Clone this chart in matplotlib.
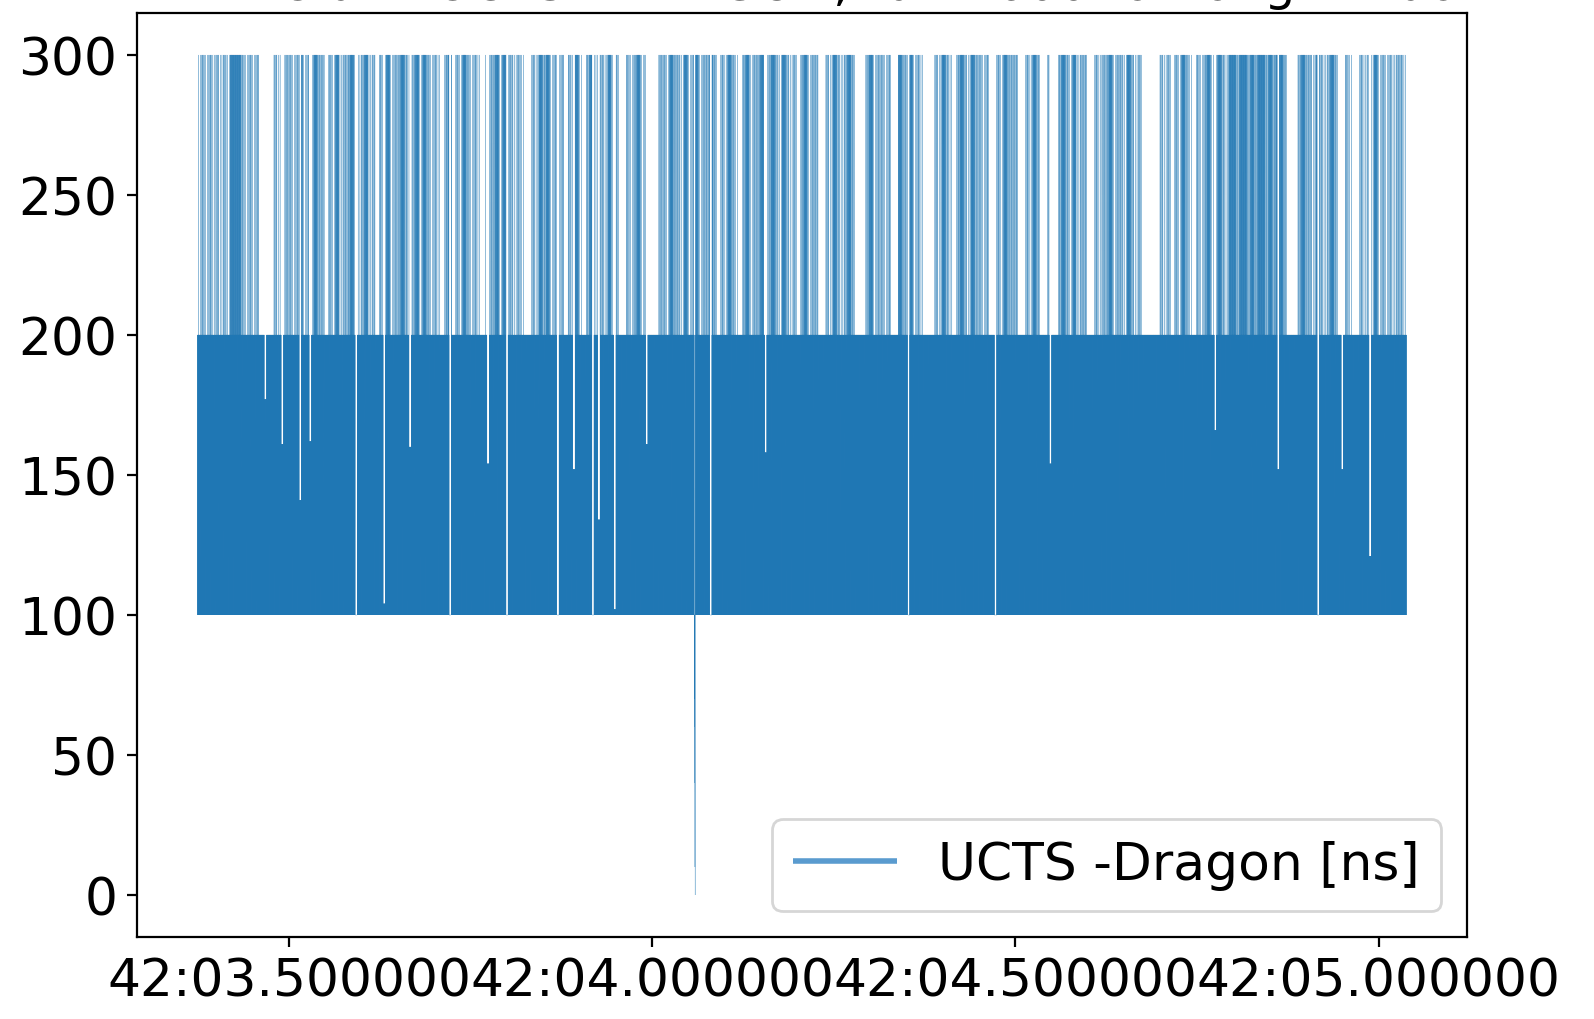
#UCTS - Dragon timestamp difference for a short stretch of a run.

#Importing packages to use required functions.
import numpy as np
import matplotlib
matplotlib.use("Agg")
import matplotlib.pyplot as plt
import matplotlib.dates as mdates
from matplotlib.collections import LineCollection

#Font size used for ticks and legend.
matplotlib.rcParams['font.size'] = 18.7
#Keep every event of the dense line.
matplotlib.rcParams['path.simplify'] = False

#Start of the minute and first event (seconds past 21:42:00).
minute_start = np.datetime64('2019-11-20T21:42:00')
t_first = 3.3735
bin_ms = 5.0

#How often the difference reached 300 ns inside each 5 ms bin (0 = never, 3 = often).
top_codes = ("12121212133321212" "0000" "21" "0" "22123121322" "0" "2131223212312" "0"
             "21312232123132121" "0" "23" "0" "2132121" "0" "12231322121" "00" "21323121"
             "2" "0" "2131" "0" "231221312" "00" "212312" "000" "2213221312312232" "0" "21321" "0"
             "231223123213212" "0" "23122" "00" "21321232" "000" "2312212" "00" "3223121"
             "000" "21321" "0" "232132212" "00" "213222" "00" "2132" "00" "2" "00" "23213122" "00" "212"
             "2312213212" "00000" "212" "0" "21321" "0" "212312321" "3323323233232332"
             "000" "23221321232" "00" "21" "00" "2121312121221")

#Short spells where the difference stayed low: time (s past 21:42) and top of the spell (ns).
streak_sec = [3.4670, 3.4904, 3.5151, 3.5289, 3.5922, 3.6307, 3.6664, 3.7215, 3.7737,
              3.7999, 3.8700, 3.8920, 3.9182, 3.9264, 3.9484, 3.9924, 4.0805, 4.1561,
              4.3528, 4.4725, 4.5481, 4.7751, 4.8618, 4.9168, 4.9498, 4.9883]
streak_floor = [177, 161, 141, 162, 100, 104, 160, 100, 154,
                100, 100, 152, 100, 134, 102, 161, 100, 158,
                100, 100, 154, 166, 152, 100, 152, 121]
streak_half_s = 0.0014

#The single drop towards 0 ns.
dip_sec = 4.0578
dip_values = [70, 100, 70, 100, 60, 100, 40, 100, 10, 100, 0, 0, 100]

#Number of events drawn per bin and how many of them reach 300 ns for each code.
n_sub = 48
visits = [0, 2, 5, 13]

#Building the event list from the bin codes.
odd = np.arange(1, n_sub, 2)
sec = []
val = []
for b, c in enumerate(top_codes):
    k = visits[int(c)]
    ups = set(odd[((np.arange(k) + 0.5) * len(odd) / k).astype(int)]) if k else set()
    for j in range(n_sub):
        sec.append(t_first + (b + j / n_sub) * bin_ms / 1000)
        if j in ups:
            val.append(300)
        else:
            val.append(100 if j % 2 == 0 else 200)
sec = np.array(sec)
val = np.array(val, dtype=float)

#Spells that do not go back up to 200 ns.
for s, fl in zip(streak_sec, streak_floor):
    w = np.abs(sec - s) < streak_half_s
    val[w] = np.where(val[w] > 100, fl, val[w])

#Drop to 0 ns.
i = np.argmin(np.abs(sec - dip_sec))
val[i:i + len(dip_values)] = dip_values

#Converting seconds to time stamps (matplotlib date numbers).
times = minute_start + (sec * 1e9).astype('timedelta64[ns]')
tnum = mdates.date2num(times)

#Each step drawn as its own segment so that the dense part fills up.
pts = np.column_stack([tnum, val])
segs = np.stack([pts[:-1], pts[1:]], axis=1)

fig = plt.figure(figsize=(7.97, 5.1), dpi=200)
ax = fig.add_axes([0.0859, 0.0804, 0.9203 - 0.0859, 0.9863 - 0.0804])
lc = LineCollection(segs, colors='#1f77b4', linewidths=0.1, label='UCTS -Dragon [ns]')
ax.add_collection(lc)
ax.autoscale_view()

#Time axis with microsecond labels.
ax.xaxis.set_major_locator(mdates.MicrosecondLocator(interval=500000))
ax.xaxis.set_major_formatter(mdates.DateFormatter('%M:%S.%f'))
ax.set_yticks([0, 50, 100, 150, 200, 250, 300])

leg = ax.legend(loc='lower right')
for h in leg.legend_handles:
    h.set_linewidth(2.0)
    h.set_color('#5a9bcf')

#Title sits above the top of the picture, only its lower edge is visible.
fig.text(190 / 1594, 1.0, 'Time diff. UCTS - DRAGON, run 1600 for long window',
         fontsize=17.8, ha='left', va='baseline')

#Figure saved.
fig.savefig('out.png', dpi=200)
